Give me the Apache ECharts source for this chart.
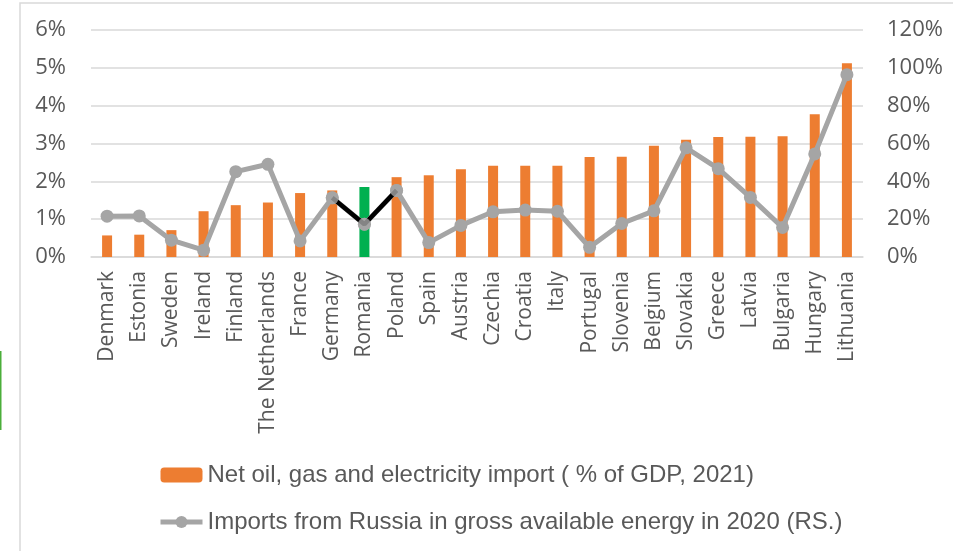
<!DOCTYPE html>
<html>
<head>
<meta charset="utf-8">
<script src="https://cdn.jsdelivr.net/npm/echarts@6/dist/echarts.min.js"></script>
<style>
  html, body { margin: 0; padding: 0; background: #fff; }
  #chart { width: 953px; height: 551px; }
</style>
</head>
<body>
<div id="chart"></div>
<script>
// Countries, sorted by net energy import share of GDP
const countries = ['Denmark', 'Estonia', 'Sweden', 'Ireland', 'Finland', 'The Netherlands', 'France',
  'Germany', 'Romania', 'Poland', 'Spain', 'Austria', 'Czechia', 'Croatia', 'Italy', 'Portugal',
  'Slovenia', 'Belgium', 'Slovakia', 'Greece', 'Latvia', 'Bulgaria', 'Hungary', 'Lithuania'];
// Net oil, gas and electricity import, % of GDP (2021) — left scale
const netImportGdp = [0.57, 0.59, 0.71, 1.21, 1.37, 1.44, 1.69, 1.76, 1.85, 2.11, 2.16, 2.32,
  2.41, 2.41, 2.41, 2.64, 2.65, 2.94, 3.10, 3.17, 3.18, 3.19, 3.77, 5.12];
// Imports from Russia in gross available energy, % (2020) — right scale
const russiaShare = [21.6, 21.7, 8.9, 3.6, 45.1, 49.0, 8.5, 31.3, 17.3, 35.2, 7.6, 16.7,
  23.9, 24.8, 24.2, 5.1, 17.7, 24.4, 57.7, 46.7, 31.5, 15.6, 54.5, 96.4];
const leftTicks = [0, 1, 2, 3, 4, 5, 6];
const rightTicks = [0, 20, 40, 60, 80, 100, 120];
const highlightCountry = 'Romania';

const barName = 'Net oil, gas and electricity import ( % of GDP, 2021)';
const lineName = 'Imports from Russia in gross available energy in 2020 (RS.)';

const hi = countries.indexOf(highlightCountry);
const barData = netImportGdp.map((v, i) =>
  i === hi ? { value: v, itemStyle: { color: '#00B050' } } : v);
// segment joining the highlighted country to its neighbours
const hiSegment = russiaShare.map((v, i) => (i >= hi - 1 && i <= hi + 1) ? v : null);
const hiMarkers = russiaShare.map((v, i) => (i >= hi - 1 && i <= hi + 1) ? v : null);

const chart = echarts.init(document.getElementById('chart'));
const labelColor = '#595959';
const gridColor = '#D9D9D9';
const lineGray = '#A5A5A5';

chart.setOption({
  animation: false,
  backgroundColor: '#fff',
  graphic: [
    { type: 'rect', shape: { x: 20, y: 3, width: 1000, height: 600 },
      style: { fill: 'none', stroke: gridColor, lineWidth: 1.5 }, silent: true },
    { type: 'rect', shape: { x: 0, y: 351, width: 1.5, height: 79 },
      style: { fill: '#4BAE3A' }, silent: true }
  ],
  grid: { left: 91, right: 90, top: 30, bottom: 294, containLabel: false },
  legend: {
    orient: 'vertical',
    left: 158,
    top: 463,
    padding: 0,
    itemWidth: 42,
    itemHeight: 15,
    itemGap: 23,
    data: [
      { name: barName },
      { name: lineName, lineStyle: { width: 5, color: lineGray }, itemStyle: { color: lineGray } }
    ],
    textStyle: { color: labelColor, fontFamily: 'Liberation Sans', fontSize: 24 }
  },
  xAxis: {
    type: 'category',
    data: countries,
    axisTick: { show: false },
    axisLine: { show: true, lineStyle: { color: gridColor, width: 1.5 } },
    axisLabel: {
      rotate: 90, interval: 0, margin: 14,
      color: labelColor, fontFamily: 'Open Sans', fontSize: 21
    }
  },
  yAxis: [
    {
      type: 'value', min: leftTicks[0], max: leftTicks[leftTicks.length - 1], interval: 1,
      axisLine: { show: false }, axisTick: { show: false },
      splitLine: { lineStyle: { color: gridColor, width: 1.5 } },
      axisLabel: { margin: 25, color: labelColor, fontFamily: 'Open Sans', fontSize: 22,
        formatter: v => v + '%' }
    },
    {
      type: 'value', min: rightTicks[0], max: rightTicks[rightTicks.length - 1], interval: 20,
      axisLine: { show: false }, axisTick: { show: false },
      splitLine: { show: false },
      axisLabel: { margin: 24, color: labelColor, fontFamily: 'Open Sans', fontSize: 22,
        formatter: v => v + '%' }
    }
  ],
  series: [
    {
      name: barName, type: 'bar', data: barData, barWidth: 10,
      itemStyle: { color: '#ED7D31' }, z: 1
    },
    {
      name: lineName, type: 'line', yAxisIndex: 1, data: russiaShare,
      symbol: 'circle', symbolSize: 13,
      lineStyle: { color: lineGray, width: 5 },
      itemStyle: { color: lineGray }, z: 2
    },
    {
      name: 'segment', type: 'line', yAxisIndex: 1, data: hiSegment,
      showSymbol: false, connectNulls: false,
      lineStyle: { color: '#000', width: 4.5 }, z: 3
    },
    {
      name: 'markers', type: 'scatter', yAxisIndex: 1, data: hiMarkers,
      symbol: 'circle', symbolSize: 13,
      itemStyle: { color: lineGray }, z: 4
    }
  ]
});
</script>
</body>
</html>
